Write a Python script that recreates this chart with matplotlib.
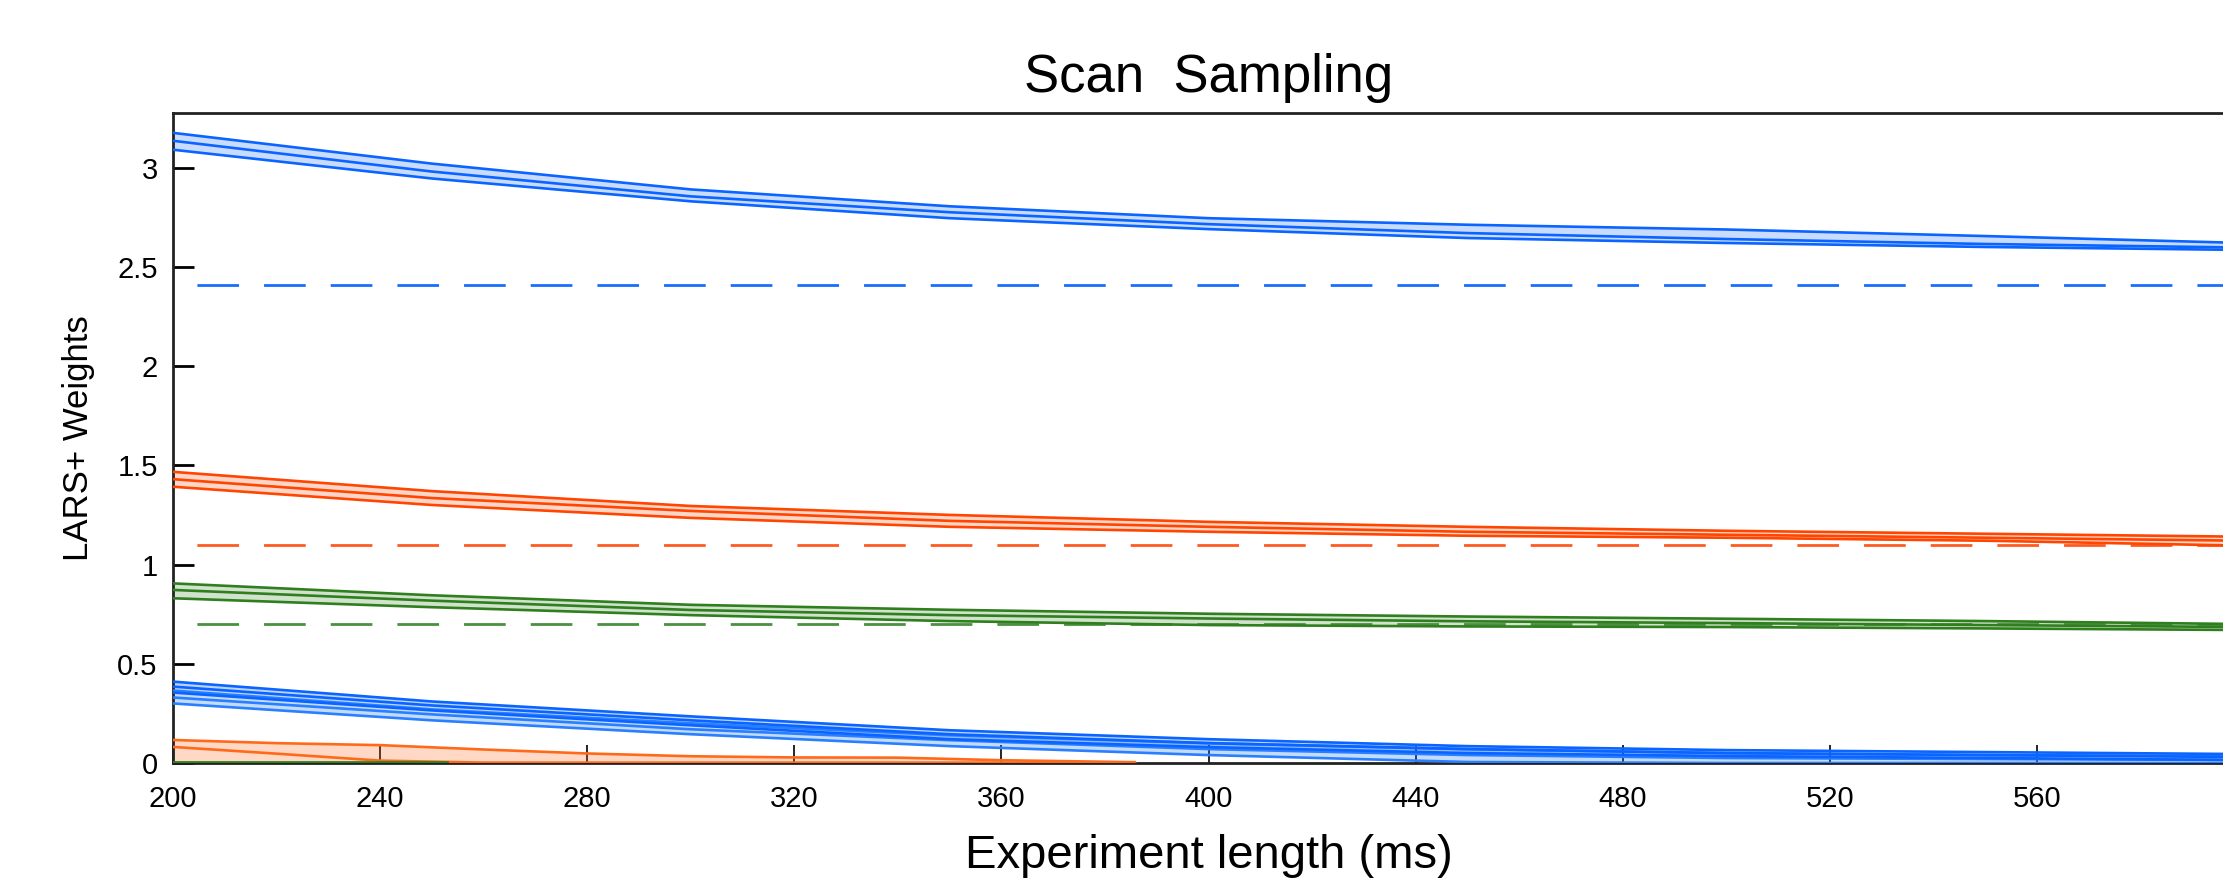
import matplotlib
matplotlib.use("Agg")
import matplotlib.pyplot as plt

plt.rcParams['font.family'] = ['Liberation Sans', 'DejaVu Sans']

# ---------------- data ----------------
x = [200, 250, 300, 350, 400, 450, 500, 550, 600]

blue_top_upper = [3.175, 3.020, 2.890, 2.805, 2.745, 2.712, 2.688, 2.655, 2.620]
blue_top_mean  = [3.135, 2.980, 2.855, 2.775, 2.715, 2.670, 2.640, 2.615, 2.597]
blue_top_lower = [3.090, 2.945, 2.830, 2.745, 2.690, 2.645, 2.620, 2.600, 2.585]
blue_top_ref = 2.41

red_upper = [1.467, 1.370, 1.295, 1.250, 1.215, 1.190, 1.170, 1.155, 1.140]
red_mean  = [1.430, 1.335, 1.270, 1.220, 1.190, 1.165, 1.150, 1.135, 1.120]
red_lower = [1.392, 1.300, 1.235, 1.190, 1.165, 1.145, 1.135, 1.120, 1.095]
red_ref = 1.10

green_upper = [0.905, 0.845, 0.797, 0.772, 0.752, 0.738, 0.727, 0.715, 0.700]
green_mean  = [0.872, 0.818, 0.771, 0.745, 0.728, 0.714, 0.705, 0.695, 0.685]
green_lower = [0.830, 0.785, 0.745, 0.715, 0.695, 0.688, 0.685, 0.678, 0.670]
green_ref = 0.70

blue_a_upper = [0.410, 0.310, 0.235, 0.165, 0.120, 0.085, 0.065, 0.055, 0.045]
blue_a_mean  = [0.385, 0.290, 0.215, 0.145, 0.100, 0.070, 0.050, 0.040, 0.030]
blue_a_lower = [0.355, 0.265, 0.190, 0.120, 0.080, 0.050, 0.035, 0.025, 0.015]

blue_b_upper = [0.365, 0.270, 0.200, 0.140, 0.100, 0.070, 0.050, 0.040, 0.035]
blue_b_mean  = [0.330, 0.245, 0.170, 0.115, 0.070, 0.040, 0.025, 0.020, 0.015]
blue_b_lower = [0.300, 0.215, 0.145, 0.085, 0.040, 0.005, 0.000, 0.000, 0.000]

x_orange = [200, 220, 240, 260, 280, 300, 320, 340, 360, 386]
orange_upper = [0.116, 0.100, 0.090, 0.068, 0.048, 0.034, 0.028, 0.027, 0.014, 0.004]
orange_mean  = [0.081, 0.047, 0.012, 0.002, 0.002, 0.002, 0.002, 0.002, 0.002, 0.002]
orange_lower = [0.002, 0.002, 0.002, 0.002, 0.002, 0.002, 0.002, 0.002, 0.002, 0.002]

x_green0 = [200, 253]
green0 = [0.004, 0.004]

xticks = [200, 240, 280, 320, 360, 400, 440, 480, 520, 560]
yticks = [0, 0.5, 1, 1.5, 2, 2.5, 3]
ytick_labels = ['0', '0.5', '1', '1.5', '2', '2.5', '3']

title = 'Scan  Sampling'
xlabel = 'Experiment length (ms)'
ylabel = 'LARS+ Weights'

# ---------------- styles ----------------
BLUE = '#0a64ff'
RED = '#ff4500'
GREEN = '#2f7f1f'
ORANGE = '#ff6a1a'

W, H = 2223, 882
fig = plt.figure(figsize=(W / 100, H / 100), dpi=100)
ax = fig.add_axes([173 / W, (H - 763) / H, 2071 / W, 650 / H])


def band(xs, lo, mid, hi, color, alpha=0.22, lw=1.9):
    ax.fill_between(xs, lo, hi, color=color, alpha=alpha, lw=0, zorder=2)
    for s in (hi, mid, lo):
        ax.plot(xs, s, color=color, lw=lw, zorder=3, solid_capstyle='butt')


def ref(y, color):
    ax.axhline(y, color=color, lw=2.0, zorder=2.5,
               linestyle=(15.4, (15, 9)))


band(x, blue_top_lower, blue_top_mean, blue_top_upper, BLUE)
ref(blue_top_ref, '#1a6eff')
band(x, red_lower, red_mean, red_upper, RED)
ref(red_ref, '#ff5a22')
band(x, green_lower, green_mean, green_upper, GREEN)
ref(green_ref, '#4a9040')
band(x_orange, orange_lower, orange_mean, orange_upper, ORANGE, alpha=0.25)
ax.plot(x_green0, green0, color=GREEN, lw=2.0, zorder=3)
band(x, blue_b_lower, blue_b_mean, blue_b_upper, '#2a7fff', alpha=0.28)
band(x, blue_a_lower, blue_a_mean, blue_a_upper, BLUE, alpha=0.28)

ax.set_xlim(200, 600)
ax.set_ylim(0, 3.275)
ax.set_xticks(xticks)
ax.set_yticks(yticks)
ax.set_yticklabels(ytick_labels)

ax.tick_params(axis='x', direction='in', length=13, width=1.2,
               labelsize=21, pad=16, colors='black')
ax.tick_params(axis='y', direction='in', length=15, width=2.0,
               labelsize=21, pad=11, colors='black')
for side in ('top', 'left', 'bottom', 'right'):
    ax.spines[side].set_linewidth(2.0)
    ax.spines[side].set_color('#222222')

ax.set_title(title, fontsize=38, pad=15)
ax.set_xlabel(xlabel, fontsize=34, labelpad=15)
ax.set_ylabel(ylabel, fontsize=25, labelpad=16)

fig.savefig('out.png', dpi=100)
